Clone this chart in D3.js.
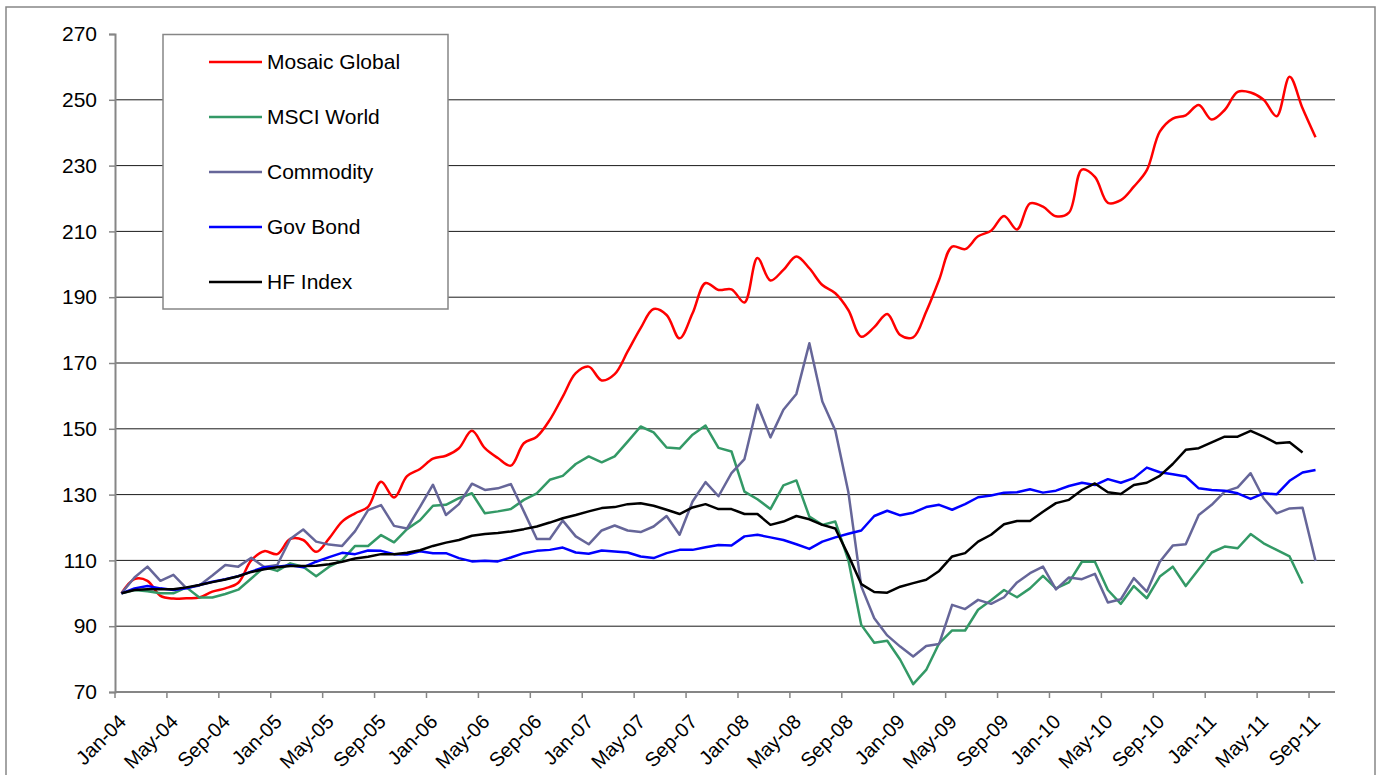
<!DOCTYPE html>
<html>
<head>
<meta charset="UTF-8">
<title>Mosaic Global vs indices</title>
<script src="https://d3js.org/d3.v7.min.js"></script>
<style>
  body { margin: 0; background: #fff; }
  svg { display: block; font-family: "Liberation Sans", Arial, sans-serif; }
</style>
</head>
<body>
<svg width="1380" height="775"></svg>
<script>
// months Jan-04 .. Oct-11 (94 categories), one label every 4 months
var categories = d3.timeMonths(new Date(2004, 0, 1), new Date(2011, 10, 1)).map(d3.timeFormat("%b-%y"));
var tickLabels = ["Jan-04","May-04","Sep-04","Jan-05","May-05","Sep-05","Jan-06","May-06","Sep-06",
  "Jan-07","May-07","Sep-07","Jan-08","May-08","Sep-08","Jan-09","May-09","Sep-09",
  "Jan-10","May-10","Sep-10","Jan-11","May-11","Sep-11"];
var yTicks = [70, 90, 110, 130, 150, 170, 190, 210, 230, 250, 270];

var seriesNames = ["Mosaic Global", "MSCI World", "Commodity", "Gov Bond", "HF Index"];

var mosaic = [100, 104.3, 103.8, 99.2, 98.4, 98.5, 98.7, 100.5, 101.5, 103.2,
  110.0, 112.8, 111.9, 116.5, 116.2, 112.6, 116.7, 121.8, 124.3, 126.3,
  133.9, 129.1, 135.6, 137.8, 140.9, 141.8, 144.1, 149.4, 144.1, 141.1,
  138.8, 145.6, 147.6, 152.7, 159.8, 166.9, 168.9, 164.7, 166.6, 173.5,
  180.6, 186.4, 184.6, 177.5, 185.1, 194.3, 192.2, 192.4, 188.4, 201.9,
  195.1, 198.3, 202.4, 198.8, 193.7, 191.2, 186.1, 178.0, 180.9, 184.9,
  178.5, 177.8, 185.6, 195.3, 205.4, 204.6, 208.5, 210.2, 214.7, 210.6,
  218.5, 217.5, 214.6, 215.7, 228.8, 226.6, 218.7, 219.5, 223.6, 228.6,
  240.3, 244.3, 245.3, 248.4, 244.0, 246.9, 252.4, 252.2, 250.0, 245.0,
  257.0, 247.4, 238.6];

var msci = [100, 101, 100.6, 100, 100, 101.8, 98.7, 98.7, 99.8, 101.1,
  104.5, 108.0, 106.8, 109.1, 108.1, 105.2, 108.1, 110.1, 114.4, 114.4,
  117.7, 115.5, 119.5, 122.2, 126.6, 126.9, 128.9, 130.4, 124.3, 124.9,
  125.6, 128.4, 130.4, 134.5, 135.7, 139.3, 141.6, 139.8, 141.6, 146.1,
  150.7, 148.9, 144.3, 144.0, 148.2, 151.0, 144.2, 143.1, 130.9, 128.6,
  125.6, 132.8, 134.3, 123.3, 120.8, 121.8, 110.2, 90.4, 85.0, 85.6,
  79.8, 72.4, 76.7, 84.8, 88.7, 88.7, 95.0, 97.9, 101.0, 98.8,
  101.5, 105.3, 101.5, 103.3, 109.6, 109.6, 101.0, 96.8, 102.2, 98.5,
  105.1, 108.1, 102.2, 107.3, 112.4, 114.2, 113.7, 118.0, 115.2, 113.2,
  111.2, 103.0];

var commodity = [100, 104.8, 108.1, 103.8, 105.6, 101.6, 102.4, 105.4, 108.6, 108.1,
  110.8, 108.0, 108.6, 116.5, 119.4, 115.7, 114.8, 114.4, 118.9, 125.3,
  126.8, 120.5, 119.7, 126.3, 133.0, 123.8, 127.1, 133.3, 131.4, 131.9,
  133.2, 124.9, 116.5, 116.5, 122.1, 117.3, 114.9, 119.1, 120.6, 119.1,
  118.6, 120.3, 123.5, 117.8, 127.9, 133.8, 129.5, 136.5, 140.8, 157.3,
  147.4, 155.8, 160.6, 176.0, 158.3, 149.5, 130.9, 102.1, 92.4, 87.2,
  83.8, 80.8, 84.0, 84.6, 96.5, 95.2, 98.0, 96.8, 98.8, 103.3,
  106.1, 108.1, 101.2, 104.8, 104.3, 105.9, 97.2, 98.2, 104.6, 100.5,
  109.6, 114.5, 114.9, 123.8, 126.9, 130.9, 132.2, 136.5, 128.9, 124.3,
  125.8, 126.0, 109.8];

var govBond = [100, 101.5, 102.2, 101.5, 101, 101.5, 102.5, 103.5, 104.3, 105.2,
  106.6, 107.9, 108.1, 108.5, 107.9, 109.6, 111.0, 112.3, 111.9, 113.0,
  112.9, 111.9, 111.8, 112.8, 112.2, 112.2, 110.7, 109.7, 109.9, 109.7,
  110.9, 112.2, 112.9, 113.2, 113.9, 112.4, 112.0, 113.0, 112.7, 112.4,
  111.2, 110.7, 112.2, 113.2, 113.2, 114.0, 114.7, 114.5, 117.3, 117.8,
  117.0, 116.2, 114.9, 113.5, 115.7, 117.0, 118.1, 119.1, 123.5, 125.1,
  123.7, 124.5, 126.2, 126.9, 125.4, 127.1, 129.2, 129.7, 130.6, 130.7,
  131.6, 130.6, 131.2, 132.6, 133.6, 132.9, 134.7, 133.6, 135.0, 138.2,
  136.8, 136.2, 135.5, 131.9, 131.4, 131.2, 130.4, 128.7, 130.4, 130.1,
  134.2, 136.7, 137.5];

var hfIndex = [100, 101, 101.2, 101.2, 101.2, 101.8, 102.5, 103.4, 104.2, 105.2,
  106.5, 107.3, 107.9, 108.3, 108.3, 108.4, 108.8, 109.6, 110.6, 111.1,
  111.9, 111.9, 112.3, 113.1, 114.4, 115.4, 116.2, 117.5, 118.0, 118.3,
  118.8, 119.5, 120.3, 121.5, 122.8, 123.8, 124.9, 125.9, 126.2, 127.1,
  127.4, 126.6, 125.4, 124.1, 126.1, 127.1, 125.6, 125.6, 124.1, 124.1,
  120.8, 121.8, 123.5, 122.5, 120.8, 119.7, 111.6, 102.8, 100.4, 100.2,
  102.0, 103.1, 104.1, 106.8, 111.2, 112.2, 115.7, 117.8, 121.0, 122.0,
  122.0, 124.8, 127.4, 128.4, 131.4, 133.4, 130.7, 130.2, 132.9, 133.6,
  135.7, 139.3, 143.6, 144.1, 145.9, 147.6, 147.6, 149.4, 147.6, 145.6,
  145.9, 142.8];

var seriesColors = ["#ff0000", "#339966", "#666699", "#0000ff", "#000000"];
var seriesData = [mosaic, msci, commodity, govBond, hfIndex];

var svg = d3.select("svg");
var plot = {left: 115, right: 1335, top: 34, bottom: 692};

// outer chart border
svg.append("rect")
  .attr("x", 6).attr("y", 7).attr("width", 1369).attr("height", 790)
  .attr("fill", "#fff").attr("stroke", "#868686").attr("stroke-width", 1.5);

var x = d3.scaleBand().domain(categories).range([plot.left, plot.right]).padding(0);
var y = d3.scaleLinear().domain([70, 270]).range([plot.bottom, plot.top]);
var cx = function(i) { return x(categories[i]) + x.bandwidth() / 2; };

// gridlines
svg.append("g").selectAll("line")
  .data(yTicks.filter(function(v) { return v > 70 && v < 270; }))
  .enter().append("line")
  .attr("x1", plot.left).attr("x2", plot.right)
  .attr("y1", function(d) { return y(d); }).attr("y2", function(d) { return y(d); })
  .attr("stroke", "#1a1a1a").attr("stroke-width", 1);

// y axis
var yAxis = svg.append("g")
  .attr("transform", "translate(" + plot.left + ",0)")
  .call(d3.axisLeft(y).tickValues(yTicks).tickSize(6).tickPadding(12));
yAxis.select(".domain").attr("stroke", "#868686").attr("stroke-width", 2);
yAxis.selectAll(".tick line").attr("stroke", "#868686").attr("stroke-width", 1.5);
yAxis.selectAll(".tick text").attr("font-size", 21).attr("fill", "#000")
  .attr("font-family", "Liberation Sans, Arial, sans-serif");

// x axis: ticks on category boundaries every 4 months
var tickIdx = d3.range(0, categories.length, 4);
var xAxisG = svg.append("g");
xAxisG.append("line")
  .attr("x1", plot.left).attr("x2", plot.right)
  .attr("y1", plot.bottom).attr("y2", plot.bottom)
  .attr("stroke", "#868686").attr("stroke-width", 2);
xAxisG.selectAll(".xt")
  .data(tickIdx).enter().append("line")
  .attr("x1", function(i) { return x(categories[i]); })
  .attr("x2", function(i) { return x(categories[i]); })
  .attr("y1", plot.bottom).attr("y2", plot.bottom + 6)
  .attr("stroke", "#868686").attr("stroke-width", 1.5);
xAxisG.selectAll(".xl")
  .data(tickLabels).enter().append("text")
  .attr("transform", function(d) {
    return "translate(" + (cx(categories.indexOf(d)) + 1) + "," + 718 + ") rotate(-45)";
  })
  .attr("text-anchor", "end")
  .attr("dy", "0.35em")
  .attr("font-size", 20)
  .text(function(d) { return d; });

// series lines
var straight = d3.line()
  .x(function(d, i) { return cx(i); })
  .y(function(d) { return y(d); });
var smooth = d3.line()
  .x(function(d, i) { return cx(i); })
  .y(function(d) { return y(d); })
  .curve(d3.curveCatmullRom.alpha(0.5));

svg.append("g").selectAll("path")
  .data(seriesData).enter().append("path")
  .attr("d", function(d, i) { return i === 0 ? smooth(d) : straight(d); })
  .attr("fill", "none")
  .attr("stroke", function(d, i) { return seriesColors[i]; })
  .attr("stroke-width", 2.5)
  .attr("stroke-linejoin", "round");

// legend
var legend = svg.append("g");
legend.append("rect")
  .attr("x", 163).attr("y", 34.5).attr("width", 285).attr("height", 274.5)
  .attr("fill", "#fff").attr("stroke", "#868686").attr("stroke-width", 1.5);
var rows = legend.selectAll(".row")
  .data(seriesNames).enter().append("g")
  .attr("transform", function(d, i) { return "translate(0," + (62 + i * 55) + ")"; });
rows.append("line")
  .attr("x1", 209).attr("x2", 262)
  .attr("stroke", function(d, i) { return seriesColors[i]; })
  .attr("stroke-width", 2.5);
rows.append("text")
  .attr("x", 267).attr("dy", "0.35em")
  .attr("font-size", 21)
  .text(function(d) { return d; });
</script>
</body>
</html>
